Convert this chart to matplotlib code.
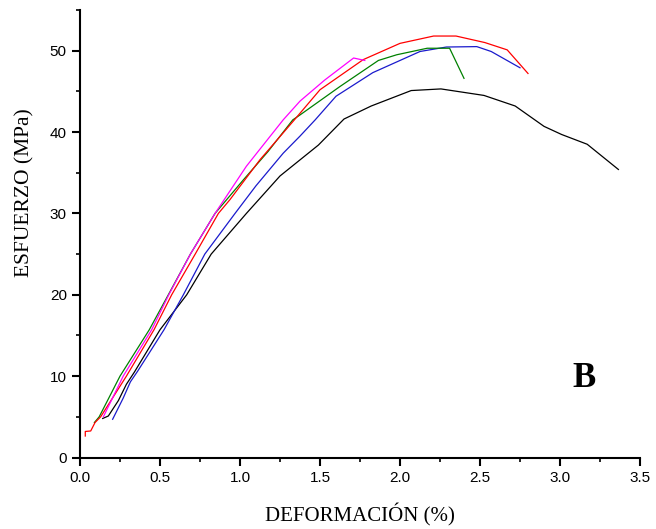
import matplotlib
matplotlib.use("Agg")
import matplotlib.pyplot as plt
from matplotlib.ticker import MultipleLocator

# ---- data ----
black_x = [0.142, 0.177, 0.24, 0.29, 0.31, 0.34, 0.50, 0.667, 0.82, 1.04, 1.25, 1.49, 1.65, 1.82, 2.07, 2.256, 2.525, 2.72, 2.90, 3.01, 3.17, 3.365]
black_y = [4.8, 5.1, 7.0, 9.0, 9.6, 10.5, 15.7, 20.0, 25.0, 30.0, 34.6, 38.4, 41.6, 43.2, 45.1, 45.3, 44.5, 43.2, 40.7, 39.7, 38.5, 35.4]

red_x = [0.033, 0.033, 0.067, 0.094, 0.129, 0.29, 0.4625, 0.573, 0.72, 0.865, 0.9375, 1.125, 1.34, 1.5, 1.77, 2.0, 2.21, 2.35, 2.53, 2.67, 2.80]
red_y = [2.64, 3.2, 3.26, 4.3, 5.0, 10.0, 15.7, 20.0, 25.0, 30.0, 31.7, 36.6, 41.5, 45.2, 48.9, 50.9, 51.8, 51.8, 51.0, 50.1, 47.2]

blue_x = [0.204, 0.27, 0.315, 0.36, 0.525, 0.646, 0.78, 0.969, 1.10, 1.27, 1.375, 1.47, 1.60, 1.83, 2.125, 2.29, 2.48, 2.57, 2.75]
blue_y = [4.7, 7.3, 9.3, 10.6, 15.7, 20.0, 25.0, 30.0, 33.4, 37.4, 39.5, 41.5, 44.4, 47.3, 49.9, 50.45, 50.5, 49.9, 47.9]

green_x = [0.09, 0.12, 0.25, 0.433, 0.552, 0.69, 0.844, 1.02, 1.175, 1.33, 1.375, 1.625, 1.865, 1.98, 2.17, 2.31, 2.40]
green_y = [4.3, 5.0, 10.0, 15.7, 20.0, 25.0, 30.0, 34.1, 37.6, 41.5, 42.1, 45.6, 48.8, 49.5, 50.3, 50.3, 46.6]

magenta_x = [0.146, 0.27, 0.448, 0.555, 0.69, 0.844, 1.04, 1.27, 1.375, 1.53, 1.71, 1.78]
magenta_y = [5.0, 10.0, 15.7, 20.0, 25.0, 30.0, 35.8, 41.5, 43.8, 46.4, 49.1, 48.8]

x_ticks = [0.0, 0.5, 1.0, 1.5, 2.0, 2.5, 3.0, 3.5]
y_ticks = [0, 10, 20, 30, 40, 50]

fig = plt.figure(figsize=(6.56, 5.29), dpi=100)
ax = fig.add_axes([80/656, 1 - 457.5/529, 560/656, 447.5/529])

lw = 0.9
ax.plot(black_x, black_y, color="black", lw=lw)
ax.plot(blue_x, blue_y, color="#1a1acc", lw=lw)
ax.plot(green_x, green_y, color="#008000", lw=lw)
ax.plot(red_x, red_y, color="#ff0000", lw=lw)
ax.plot(magenta_x, magenta_y, color="#ff00ff", lw=lw)

ax.set_xlim(0, 3.5)
ax.set_ylim(0, 55)
ax.set_xticks(x_ticks)
ax.set_xticklabels([f"{v:.1f}" for v in x_ticks])
ax.set_yticks(y_ticks)
ax.set_yticklabels([str(v) for v in y_ticks])
ax.xaxis.set_minor_locator(MultipleLocator(0.25))
ax.yaxis.set_minor_locator(MultipleLocator(5))

for s in ["top", "right"]:
    ax.spines[s].set_visible(False)
for s in ["left", "bottom"]:
    ax.spines[s].set_linewidth(1.5)

ax.tick_params(which="major", direction="out", length=5.5, width=1.5,
               labelsize=11, pad=4)
ax.tick_params(which="minor", direction="out", length=3, width=1.2)
for lab in ax.get_xticklabels() + ax.get_yticklabels():
    lab.set_fontfamily("Liberation Sans")

ax.set_xlabel("DEFORMACIÓN (%)", fontfamily="Liberation Serif", fontsize=15)
ax.set_ylabel("ESFUERZO (MPa)", fontfamily="Liberation Serif", fontsize=15.5)
ax.xaxis.set_label_coords(0.5, -0.103)
ax.yaxis.set_label_coords(-0.082, 0.593)

ax.text(3.15, 9.7, "B", fontfamily="Liberation Serif", fontweight="bold",
        fontsize=25, ha="center", va="center")

fig.savefig("out.png", dpi=100)
